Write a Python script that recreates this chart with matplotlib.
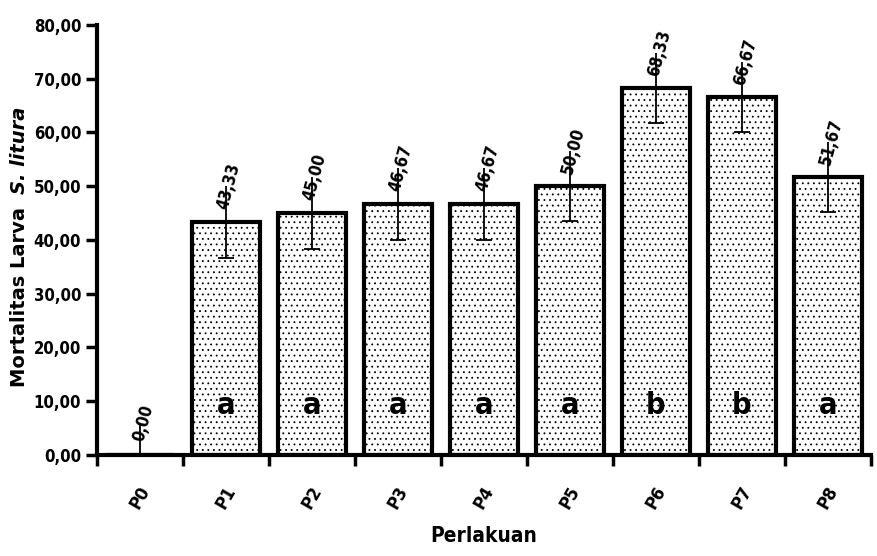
import matplotlib
matplotlib.use("Agg")
import matplotlib.pyplot as plt
import numpy as np

# data
perlakuan = ["P0", "P1", "P2", "P3", "P4", "P5", "P6", "P7", "P8"]
mortalitas = [0.00, 43.33, 45.00, 46.67, 46.67, 50.00, 68.33, 66.67, 51.67]
galat = [6.0, 6.7, 6.7, 6.7, 6.7, 6.5, 6.5, 6.5, 6.5]
notasi = ["", "a", "a", "a", "a", "a", "b", "b", "a"]

plt.rcParams["font.family"] = ["DejaVu Sans"]
plt.rcParams["font.stretch"] = "condensed"
plt.rcParams["hatch.linewidth"] = 0.6

fig = plt.figure(figsize=(8.78, 5.56), dpi=100)
ax = fig.add_axes([0.110, 0.182, 0.882, 0.773])

x = np.arange(len(perlakuan))
ax.bar(x, mortalitas, width=0.79, color="white", edgecolor="black",
       linewidth=3, hatch="...", zorder=2)

eb = ax.errorbar(x, mortalitas, yerr=galat, fmt="none", ecolor="black",
                 elinewidth=1.3, capsize=6, capthick=1.3, zorder=3)
# only the lower caps are visible in the original
eb[1][1].set_visible(False)

for xi, v, e in zip(x, mortalitas, galat):
    lbl = "{:.2f}".format(v).replace(".", ",")
    ax.text(xi + 0.04, v + e, lbl, rotation=75, ha="center", va="center",
            fontsize=12, fontweight="bold", zorder=4)

for xi, n in zip(x, notasi):
    if n:
        ax.text(xi, 9.1, n, ha="center", va="center", fontsize=22,
                fontweight="bold", zorder=4)

ax.set_xlim(-0.5, len(perlakuan) - 0.5)
ax.set_ylim(0, 80)
ax.set_yticks(np.arange(0, 81, 10))
ax.set_yticklabels(["{:.2f}".format(t).replace(".", ",") for t in np.arange(0, 81, 10)],
                   fontsize=12, fontweight="bold")
ax.set_xticks(x)
ax.set_xticklabels(perlakuan, rotation=60, fontsize=13, fontweight="bold",
                   ha="center", va="top")
ax.set_xticks(np.arange(-0.5, len(perlakuan), 1), minor=True)
ax.tick_params(axis="x", which="major", length=0, pad=20)
ax.tick_params(axis="x", which="minor", length=8, width=2.5, direction="out")
ax.tick_params(axis="y", length=8, width=2.5, direction="out", pad=3)

for s in ["top", "right"]:
    ax.spines[s].set_visible(False)
for s in ["left", "bottom"]:
    ax.spines[s].set_linewidth(3)

ax.set_xlabel("Perlakuan", fontsize=15, fontweight="bold", labelpad=10)

# y label in two parts: plain bold + bold italic species name
fig.text(0.022, 0.466, "Mortalitas Larva", rotation=90, ha="center", va="center",
         fontsize=14, fontweight="bold", fontstretch="normal")
fig.text(0.022, 0.730, "S. litura", rotation=90, ha="center", va="center",
         fontsize=14, fontweight="bold", fontstyle="italic", fontstretch="normal")

fig.savefig("out.png", dpi=100)
